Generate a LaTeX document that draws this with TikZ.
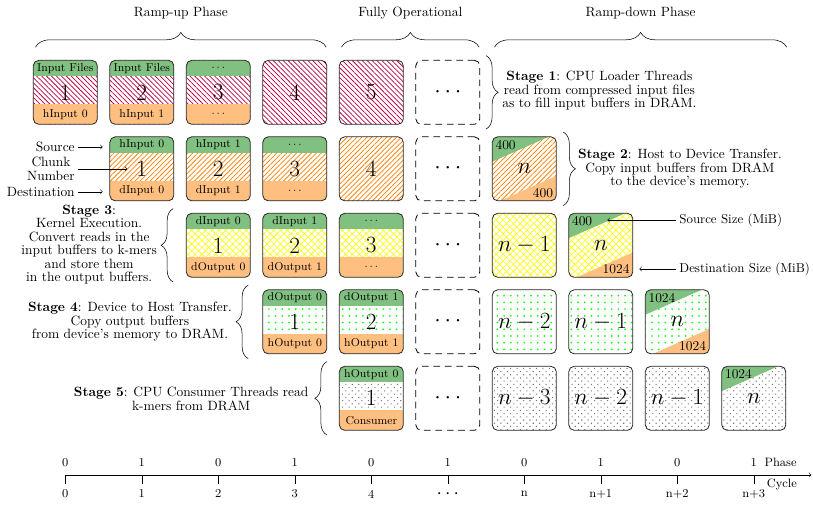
\documentclass[tikz,border=0pt]{standalone}
\usepackage{tikz}
\usetikzlibrary{calc,arrows,positioning}
\usetikzlibrary{decorations.pathreplacing,patterns,patterns.meta}

\definecolor{srcgreen}{RGB}{128,192,128}
\definecolor{dstorange}{RGB}{255,191,128}

\tikzset{
  chunk/.style={draw=black!85, line width=0.6pt, rounded corners=4pt,
    minimum size=1.673cm, inner sep=0pt, font=\LARGE},
  pending/.style={chunk, draw=black, dash pattern=on 5pt off 3.5pt},
  load/.style={pattern={Lines[angle=-45,distance=2.6pt,line width=0.55pt]},
    pattern color=purple},
  htod/.style={pattern={Lines[angle=45,distance=2.6pt,line width=0.55pt]},
    pattern color=orange},
  kernel/.style={pattern={Hatch[angle=45,distance=3.6pt,line width=0.45pt]},
    pattern color=yellow},
  dtoh/.style={pattern={Dots[distance=5pt,radius=0.7pt]}, pattern color=green},
  consume/.style={pattern={Dots[angle=45,distance=3.4pt,radius=0.55pt]},
    pattern color=black!55},
  bands/.style={path picture={
      \fill[srcgreen, sharp corners] (path picture bounding box.north west)
        rectangle ([yshift=-0.42cm]path picture bounding box.north east);
      \fill[dstorange, sharp corners] (path picture bounding box.south west)
        rectangle ([yshift=0.52cm]path picture bounding box.south east);}},
  src size/.style={path picture={
      \fill[srcgreen, sharp corners] (path picture bounding box.north west)
        -- ++(1.47cm,0) -- ([yshift=-0.65cm]path picture bounding box.north west)
        -- cycle;}},
  sizes/.style={path picture={
      \fill[srcgreen, sharp corners] (path picture bounding box.north west)
        -- ++(1.47cm,0) -- ([yshift=-0.65cm]path picture bounding box.north west)
        -- cycle;
      \fill[dstorange, sharp corners] (path picture bounding box.south east)
        -- ++(-1.47cm,0) -- ([yshift=0.65cm]path picture bounding box.south east)
        -- cycle;}},
  bandtext/.style={inner sep=0pt, minimum width=1.6cm,
    font=\fontsize{8.5}{10}\selectfont},
  sizetext/.style={inner sep=2.5pt, font=\normalsize},
  stage/.style={align=center, inner sep=0pt, font=\fontsize{10}{10}\selectfont},
  annot/.style={inner sep=2.5pt, align=center, font=\fontsize{10}{10}\selectfont},
  axislabel/.style={inner sep=1pt, font=\small},
  brace/.style={decorate, decoration={brace, amplitude=9pt}},
  phase brace/.style={decorate, decoration={brace, amplitude=11pt}},
}

% a buffer chunk with just its number
\def\Chunk(#1)#2#3#4{%
  \node[chunk,#3] (#2) at (#1) {#4};
}
% a buffer chunk with source band on top and destination band below
\def\BandChunk(#1)#2#3#4#5#6{%
  \node[chunk,bands,#3] (#2) at (#1) {#5};
  \node[bandtext,anchor=north,minimum height=0.42cm] (#2 src) at (#2.north) {#4};
  \node[bandtext,anchor=south,minimum height=0.52cm] (#2 dst) at (#2.south) {#6};
}
% the last chunk, with source and destination sizes
\def\SizeChunk(#1)#2#3#4#5{%
  \node[chunk,sizes,#3] (#2) at (#1) {$n$};
  \node[sizetext,anchor=north west] (#2 src) at (#2.north west) {#4};
  \node[sizetext,anchor=south east] (#2 dst) at (#2.south east) {#5};
}

\begin{document}
\begin{tikzpicture}[x=2cm,y=2cm]
  \useasboundingbox (-0.854,-5.382) rectangle (9.774,1.207);

  % Phases on top
  \draw[phase brace] (-0.39,0.59) -- (3.41,0.59);
  \draw[phase brace] (3.61,0.59) -- (5.41,0.59);
  \draw[phase brace] (5.61,0.59) -- (9.43,0.59);
  \node (rampup) at (1.51,1.03) {Ramp-up Phase};
  \node (fullop) at (4.51,1.03) {Fully Operational};
  \node (rampdown) at (7.52,1.03) {Ramp-down Phase};

  % Stage 1: loading
  \BandChunk(0,0){r1c1}{load}{Input Files}{1}{hInput 0}
  \BandChunk(1,0){r1c2}{load}{Input Files}{2}{hInput 1}
  \BandChunk(2,0){r1c3}{load}{$\cdots$}{3}{$\cdots$}
  \Chunk(3,0){r1c4}{load}{4}
  \Chunk(4,0){r1c5}{load}{5}
  \node[pending] (r1c6) at (5,0) {$\cdots$};
  \draw[brace] (5.50,0.48) -- (5.50,-0.48);
  \node[stage,anchor=west] (stage1) at (5.71,0.02)
    {\textbf{Stage 1}: CPU Loader Threads\\read from compressed input files\\as to fill input buffers in DRAM.};

  % Stage 2: host to device
  \BandChunk(1,-1){r2c2}{htod}{hInput 0}{1}{dInput 0}
  \BandChunk(2,-1){r2c3}{htod}{hInput 1}{2}{dInput 1}
  \BandChunk(3,-1){r2c4}{htod}{$\cdots$}{3}{$\cdots$}
  \Chunk(4,-1){r2c5}{htod}{4}
  \node[pending] (r2c6) at (5,-1) {$\cdots$};
  \SizeChunk(6,-1){r2c7}{htod}{400}{400}
  \draw[brace] (6.51,-0.52) -- (6.51,-1.48);
  \node[stage,anchor=west] (stage2) at (6.70,-1)
    {\textbf{Stage 2}: Host to Device Transfer.\\Copy input buffers from DRAM\\to the device's memory.};
  \node[annot,anchor=east] (source) at (0.17,-0.715) {Source};
  \node[annot,anchor=east] (chunkno) at (0.17,-1.0) {Chunk\\Number};
  \node[annot,anchor=east] (destination) at (0.17,-1.30) {Destination};
  \draw[->,shorten >=5pt] (source) -- (source -| r2c2.west);
  \draw[->,shorten >=0.38cm] (chunkno) -- (chunkno -| r2c2.center);
  \draw[->,shorten >=5pt] (destination) -- (destination -| r2c2.west);

  % Stage 3: kernel
  \BandChunk(2,-2){r3c3}{kernel}{dInput 0}{1}{dOutput 0}
  \BandChunk(3,-2){r3c4}{kernel}{dInput 1}{2}{dOutput 1}
  \BandChunk(4,-2){r3c5}{kernel}{$\cdots$}{3}{$\cdots$}
  \node[pending] (r3c6) at (5,-2) {$\cdots$};
  \Chunk(6,-2){r3c7}{kernel}{$n-1$}
  \SizeChunk(7,-2){r3c8}{kernel}{400}{1024}
  \draw[brace] (1.41,-2.48) -- (1.41,-1.52);
  \node[stage,anchor=east] (stage3) at (1.20,-1.99)
    {\textbf{Stage 3}:\\Kernel Execution.\\Convert reads in the\\input buffers to k-mers\\and store them\\in the output buffers.};
  \node[annot,anchor=west,font=\fontsize{9.6}{10}\selectfont] (srcsize) at (7.98,-1.67) {Source Size (MiB)};
  \node[annot,anchor=west,font=\fontsize{9.6}{10}\selectfont] (dstsize) at (7.98,-2.31) {Destination Size (MiB)};
  \draw[->,shorten >=0.3cm] (srcsize) -- (srcsize -| r3c8 src.east);
  \draw[->,shorten >=4.5pt] (dstsize) -- (dstsize -| r3c8.east);

  % Stage 4: device to host
  \BandChunk(3,-3){r4c4}{dtoh}{dOutput 0}{1}{hOutput 0}
  \BandChunk(4,-3){r4c5}{dtoh}{dOutput 1}{2}{hOutput 1}
  \node[pending] (r4c6) at (5,-3) {$\cdots$};
  \Chunk(6,-3){r4c7}{dtoh}{$n-2$}
  \Chunk(7,-3){r4c8}{dtoh}{$n-1$}
  \SizeChunk(8,-3){r4c9}{dtoh}{1024}{1024}
  \draw[brace] (2.39,-3.48) -- (2.39,-2.52);
  \node[stage,anchor=east] (stage4) at (2.18,-3.0)
    {\textbf{Stage 4}: Device to Host Transfer.\\Copy output buffers\\from device's memory to DRAM.};

  % Stage 5: consumers
  \BandChunk(4,-4){r5c5}{consume}{hOutput 0}{1}{Consumer}
  \node[pending] (r5c6) at (5,-4) {$\cdots$};
  \Chunk(6,-4){r5c7}{consume}{$n-3$}
  \Chunk(7,-4){r5c8}{consume}{$n-2$}
  \Chunk(8,-4){r5c9}{consume}{$n-1$}
  \node[chunk,consume,src size] (r5c10) at (9,-4) {$n$};
  \node[sizetext,anchor=north west] (r5c10 src) at (r5c10.north west) {1024};
  \draw[brace] (3.42,-4.48) -- (3.42,-3.52);
  \node[stage,anchor=east] (stage5) at (3.18,-4.01)
    {\textbf{Stage 5}: CPU Consumer Threads read\\k-mers from DRAM};

  % Time axis
  \draw[->] (0,-5) coordinate (axis start) -- (9.75,-5) coordinate (axis end);
  \foreach \x/\ph/\cy in {0/0/0,1/1/1,2/0/2,3/1/3,4/0/4,5/1/{\Large$\cdots$},
                          6/0/n,7/1/n+1,8/0/n+2,9/1/n+3}{
    \draw (\x,-5) -- (\x,-5.12);
    \node[axislabel] (phase\x) at (\x,-4.84) {\ph};
    \node[axislabel] (cycle\x) at (\x,-5.25) {\cy};
  }
  \node[axislabel,anchor=west] (phase) at (9.12,-4.84) {Phase};
  \node[axislabel,anchor=west] (cycle) at (9.15,-5.13) {Cycle};
\end{tikzpicture}
\end{document}
